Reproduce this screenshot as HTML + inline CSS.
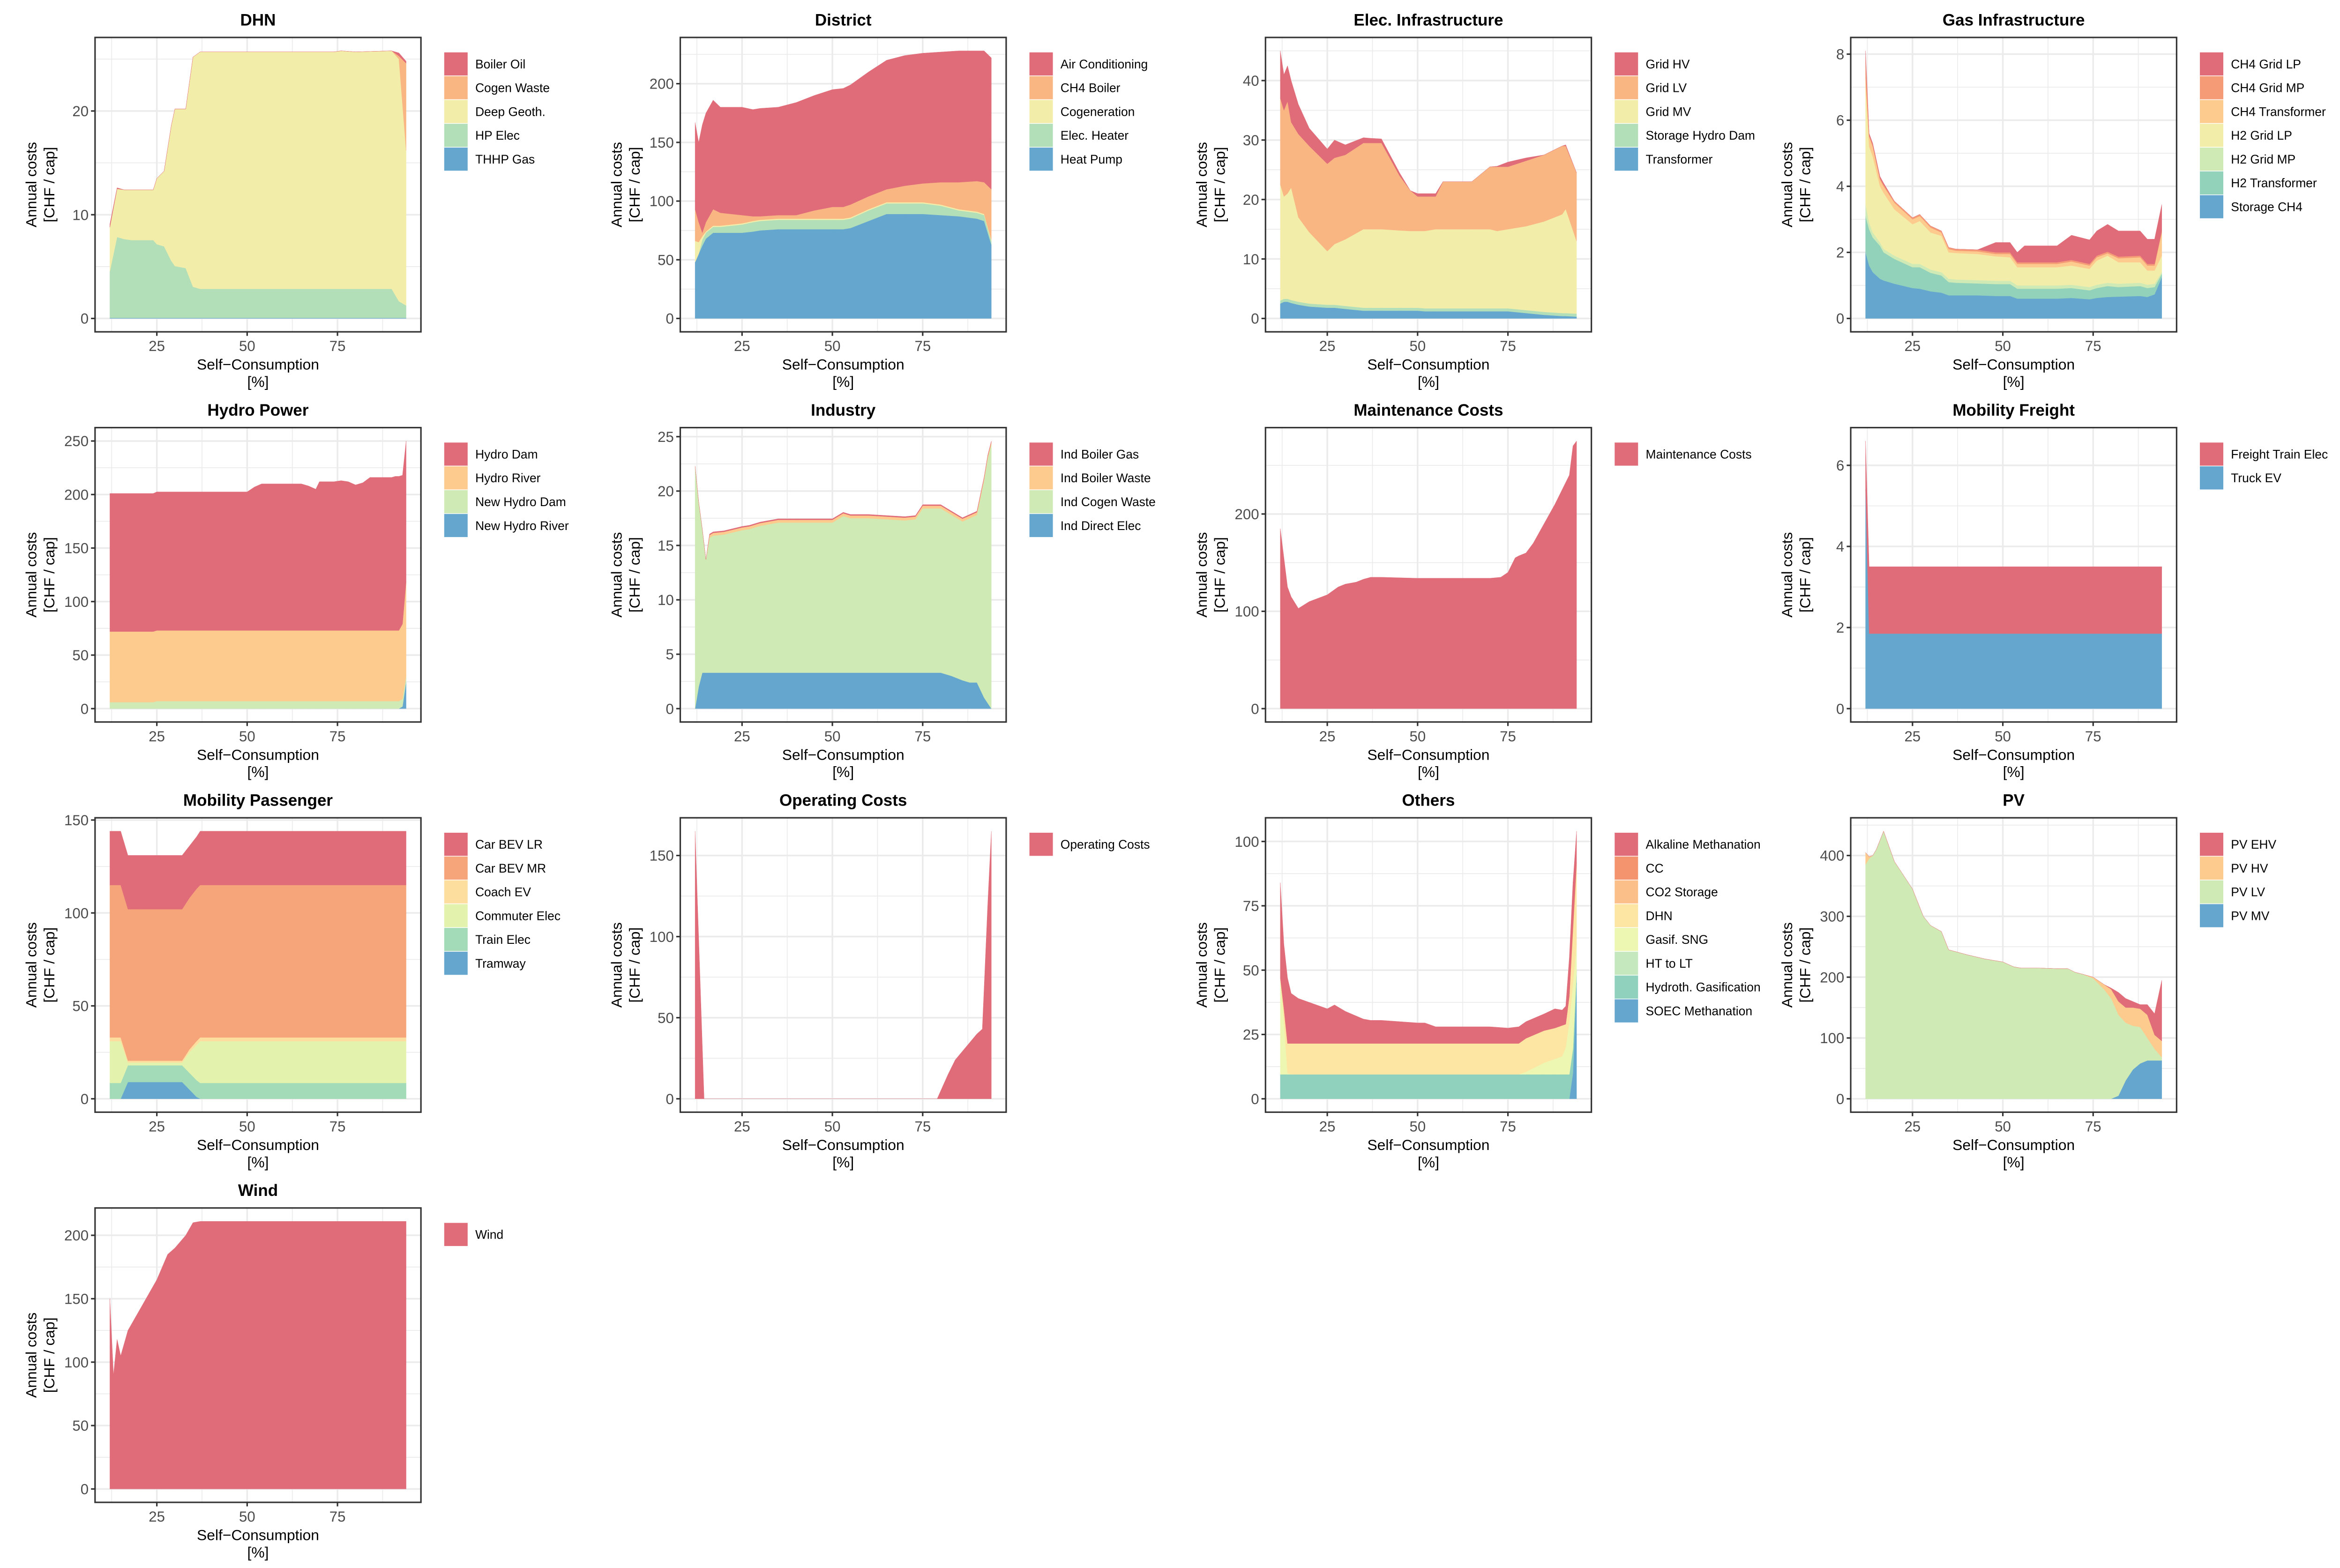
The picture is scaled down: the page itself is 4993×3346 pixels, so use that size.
<!DOCTYPE html>
<html><head><meta charset="utf-8">
<style>
html,body{margin:0;padding:0;background:#fff;}
svg{display:block;font-family:"Liberation Sans",Arial,sans-serif;}
</style></head>
<body>
<svg id="chart" xmlns="http://www.w3.org/2000/svg" width="4993" height="3346" viewBox="0 0 1568.2 1050.9" preserveAspectRatio="none">
<rect x="0" y="0" width="1568.2" height="1050.9" fill="#ffffff"/>
</svg>
<script>
// ---------- DATA ----------
const dhnX = [12,14,16,18,24,25,27,29,30,33,35,37,50,74,76,80,90,92,94];
const dhnBoilerOil = [0.3,0.1,0,0,0,0,0,0,0,0,0,0,0,0,0,0,0,0.3,0.2];
const dhnCogenWaste = [0,0,0,0,0,0,0,0,0,0,0,0,0,0,0,0,0,0.3,8.4];
const dhnDeepGeoth = [4.25,4.65,4.75,4.85,4.85,6.35,7.25,13.05,15.15,15.35,22.15,22.85,22.85,22.85,22.95,22.85,22.95,23.35,14.95];
const dhnHpElec = [4.5,7.8,7.6,7.5,7.5,7.1,6.9,5.5,5.0,4.8,3.0,2.8,2.8,2.8,2.8,2.8,2.8,1.6,1.2];
const dhnThhpGas = [0.05,0.05,0.05,0.05,0.05,0.05,0.05,0.05,0.05,0.05,0.05,0.05,0.05,0.05,0.05,0.05,0.05,0.05,0.05];
const dhnTicks = [0,10,20];

const districtX = [12,13,14,15,17,19,25,28,30,35,40,45,50,53,55,60,65,70,75,80,85,90,92,94];
const districtAirCond = [74,68,92,93,93,90,92,91,92,92,96,98,100,101,102,106,110,111,111,111,112,111,112,112];
const districtCh4Boiler = [27,17,3,8,14,11,7,4,3,3,3,7,10,10,11,11,11,14,16,19,23,26,27,43];
const districtCogeneration = [18,10,3,1,1,1,1,1,1,1,1,1,1,1,1,1,1,1,1,1,1,1,1,1];
const districtElecHeater = [0,0,5,5,5,5,7,8,8,8,8,8,8,8,8,9,9,9,9,8,5,5,5,3];
const districtHeatPump = [48,55,62,68,73,73,73,74,75,76,76,76,76,76,77,83,89,89,89,88,87,85,83,63];
const districtTicks = [0,50,100,150,200];

const elecX = [12,13,14,15,17,20,25,27,30,35,37,40,45,48,50,52,55,57,65,70,72,75,80,85,90,91,94];
const elecGridHV = [8,6,6,7,5,3,2.5,3,1.7,0.9,0.8,0.7,0.5,0,0.5,0.5,0.5,0,0,0,0.1,0.8,0.5,0,0,0.2,0];
const elecGridLV = [14.5,14.5,15.5,11,14,14.5,14.7,14.5,14.2,14.5,14.5,14.5,9.2,6.8,5.8,5.8,5.5,8,8,10.5,10.8,10.5,11,11.2,11.5,10.6,11.5];
const elecGridMV = [19.5,17.2,17.7,18.9,14.2,12.0,9.0,10.2,11.2,13.2,13.2,13.2,13.0,12.9,12.9,13.0,13.3,13.3,13.3,13.3,13.0,13.3,14.1,15.2,16.6,17.5,12.2];
const elecStorageHydro = [0.5,0.5,0.5,0.5,0.5,0.5,0.5,0.5,0.5,0.5,0.5,0.5,0.5,0.5,0.5,0.5,0.5,0.5,0.5,0.5,0.5,0.5,0.5,0.5,0.5,0.5,0.5];
const elecTransformer = [2.5,2.8,2.8,2.6,2.3,2.0,1.8,1.8,1.6,1.3,1.3,1.3,1.3,1.3,1.3,1.2,1.2,1.2,1.2,1.2,1.2,1.2,0.9,0.6,0.4,0.4,0.3];
const elecTicks = [0,10,20,30,40];

const gasX = [12,13,14,16,17,20,25,27,30,33,35,37,43,48,52,54,56,65,69,74,76,79,82,88,90,92,94];
const gasCh4GridLP = [0.2,0.05,0.05,0.05,0.05,0,0,0,0,0,0,0,0,0.3,0.3,0.3,0.5,0.5,0.75,0.73,0.75,0.83,0.78,0.75,0.75,0.75,0.8];
const gasCh4GridMP = [0.6,0.05,0.05,0.05,0.05,0.05,0.05,0.05,0.05,0.05,0.05,0.05,0.05,0.05,0.05,0.05,0.05,0.05,0.05,0.05,0.05,0.05,0.05,0.05,0.05,0.05,0.05];
const gasCh4Transformer = [0.3,0.3,0.3,0.2,0.2,0.2,0.15,0.15,0.15,0.1,0.1,0.07,0.08,0.07,0.1,0.1,0.1,0.1,0.12,0.1,0.1,0.07,0.12,0.15,0.15,0.15,0.7];
const gasH2GridLP = [3.55,2.3,2.3,1.7,1.7,1.4,1.2,1.3,1.12,1.1,0.8,0.8,0.79,0.74,0.71,0.55,0.55,0.55,0.58,0.55,0.73,0.82,0.65,0.62,0.43,0.4,0.5];
const gasH2GridMP = [0.35,0.2,0.15,0.1,0.1,0.1,0.1,0.1,0.1,0.1,0.1,0.1,0.1,0.1,0.1,0.1,0.1,0.1,0.1,0.1,0.1,0.1,0.1,0.1,0.1,0.1,0.05];
const gasH2Transformer = [1.1,1.1,1.05,1.0,0.85,0.75,0.63,0.65,0.56,0.52,0.4,0.38,0.36,0.36,0.36,0.3,0.3,0.3,0.3,0.27,0.3,0.33,0.29,0.3,0.27,0.22,0.1];
const gasStorageCh4 = [2.0,1.6,1.4,1.2,1.15,1.05,0.92,0.9,0.82,0.78,0.7,0.7,0.7,0.68,0.68,0.6,0.6,0.6,0.62,0.58,0.62,0.65,0.66,0.68,0.65,0.73,1.25];
const gasTicks = [0,2,4,6,8];

const hydroX = [12,24,25,50,52,54,55,65,67,69,70,74,76,78,80,82,84,90,91,92,93,94];
const hydroDam = [129,129,129.5,129.5,134,137,137,137,135,132,139,139,140,139,136,138,143,143,144,144,139,132];
const hydroRiver = [66,66,66,66,66,66,66,66,66,66,66,66,66,66,66,66,66,66,66,66,70,88];
const hydroNewDam = [6,6,7,7,7,7,7,7,7,7,7,7,7,7,7,7,7,7,7,7,7,5];
const hydroNewRiver = [0,0,0,0,0,0,0,0,0,0,0,0,0,0,0,0,0,0,0,0,2,25];
const hydroTicks = [0,50,100,150,200,250];

const industryX = [12,13,14,15,16,17,20,25,27,30,35,37,40,50,53,55,60,65,70,73,75,80,83,86,88,90,92,93,94];
const industryBoilerGas = [0,0,0,0,0.1,0.1,0.1,0.1,0.1,0.1,0.1,0.1,0.1,0.1,0.1,0.1,0.1,0.1,0.1,0.1,0.1,0.1,0.1,0.1,0.1,0.1,0.1,0.1,0.1];
const industryBoilerWaste = [0,0,0,0,0.25,0.25,0.25,0.25,0.25,0.25,0.25,0.25,0.25,0.25,0.25,0.25,0.25,0.25,0.25,0.25,0.25,0.25,0.25,0.25,0.25,0.25,0.2,0.2,0.2];
const industryCogenWaste = [22.3,17,13.2,10.4,12.4,12.6,12.7,13.1,13.2,13.5,13.8,13.8,13.8,13.8,14.4,14.2,14.2,14.1,14.0,14.1,15.1,15.1,14.8,14.6,15.1,15.4,20,22.5,24.3];
const industryDirectElec = [0,2,3.3,3.3,3.3,3.3,3.3,3.3,3.3,3.3,3.3,3.3,3.3,3.3,3.3,3.3,3.3,3.3,3.3,3.3,3.3,3.3,3.0,2.6,2.4,2.4,1.0,0.5,0];
const industryTicks = [0,5,10,15,20,25];

const maintX = [12,13,14,15,17,20,25,28,30,33,35,37,40,50,60,70,73,75,77,78,80,82,85,88,90,92,93,94];
const maintCosts = [185,155,125,115,103,110,117,125,128,130,133,135,135,134,134,134,135,140,155,157,160,170,190,210,225,240,270,275];
const maintTicks = [0,100,200];

const freightX = [12,13,94];
const freightTrain = [1.2,1.65,1.65];
const freightTruck = [5.4,1.85,1.85];
const freightTicks = [0,2,4,6];

const passX = [12,15,17,20,32,34,36,37,38,94];
const passCarLR = [29,29,29,29,29,28,28,29,29,29];
const passCarMR = [82,82,81.5,81.5,81.5,81.5,82,82,82,82];
const passCoach = [2,2,1,1,1,1.5,2,2,2,2];
const passCommuter = [22.5,22.5,1.5,1.5,1.5,11,19,22.5,22.5,22.5];
const passTrain = [8.5,8.5,9,9,9,9,9,8.5,8.5,8.5];
const passTramway = [0,0,9,9,9,5,1,0,0,0];
const passTicks = [0,50,100,150];

const opX = [12,14.5,79,82,84,87,90,91.5,93,94];
const opCosts = [165,0,0,15,24,32,40,43,120,165];
const opTicks = [0,50,100,150];

const othersX = [12,13,14,15,16,17,20,25,27,30,35,37,40,45,50,52,55,60,65,70,75,78,80,85,88,90,91,92,93,94];
const othersAlkaline = [37,25,25.5,19.5,18.5,17.5,16,13.5,15,12.5,9.5,9,9,8.5,8,8,6.5,6.5,6.5,6.5,6,6.5,6.5,6.5,7.5,6,7,15,17,12];
const othersCC = [0,0,0,0,0,0,0,0,0,0,0,0,0,0,0,0,0,0,0,0,0,0,0,0,0,0,0,0,1,1];
const othersCO2 = [0,0,0,0,0,0,0,0,0,0,0,0,0,0,0,0,0,0,0,0,0,0,0,0,0,0,0,0,1,1];
const othersDHN = [0,5,11.5,12,12,12,12,12,12,12,12,12,12,12,12,12,12,12,12,12,12,12,13,12.5,12,12,9,10,20,30];
const othersGasif = [37.5,20.5,0.5,0,0,0,0,0,0,0,0,0,0,0,0,0,0,0,0,0,0,0,1,4.5,6,7,10.5,20.5,25.5,10];
const othersHtLt = [0,0,0,0,0,0,0,0,0,0,0,0,0,0,0,0,0,0,0,0,0,0,0,0,0,0,0,0,0,0];
const othersHydroth = [9.5,9.5,9.5,9.5,9.5,9.5,9.5,9.5,9.5,9.5,9.5,9.5,9.5,9.5,9.5,9.5,9.5,9.5,9.5,9.5,9.5,9.5,9.5,9.5,9.5,9.5,9.5,9.5,9.5,5];
const othersSoec = [0,0,0,0,0,0,0,0,0,0,0,0,0,0,0,0,0,0,0,0,0,0,0,0,0,0,0,0,10,45];
const othersTicks = [0,25,50,75,100];

const pvX = [12,13,14,15,17,20,25,28,30,33,35,40,45,50,53,55,60,65,68,70,72,75,78,80,82,84,86,88,90,92,94];
const pvEHV = [0,0,0,0,0,0,0,0,0,0,0,0,0,0,0,0,0,0,0,0,0,0,0,2,15,15,10,7,17,35,100];
const pvHV = [20,3,0,0,0,0,0,0,0,0,0,0,0,0,0,0,0,0,0,0,0,2,8,15,22,25,30,30,38,23,27];
const pvLV = [385,395,400,410,440,390,345,300,285,275,245,237,230,225,217,215,215,214,214,208,205,198,180,165,133,95,72,60,37,19,5];
const pvMV = [0,0,0,0,0,0,0,0,0,0,0,0,0,0,0,0,0,0,0,0,0,0,0,0,5,30,48,58,63,63,63];
const pvTicks = [0,100,200,300,400];

const windX = [12,13,14,15,17,20,25,28,30,33,35,37,94];
const windCosts = [150,90,118,105,125,140,165,185,190,200,210,211,211];
const windTicks = [0,50,100,150,200];

const xTicks = [25,50,75];

// ---------- STYLE ----------
const RED='#E06C79', ORG7='#F59C77', ORG5='#F9B582', PEACH='#FDCB8E', YEL='#F3EDAA',
      LGR='#CFEAB5', GR5='#B3DFB8', TEAL='#93D2BA', BLUE='#65A6CF';

const panels = [
 {title:'DHN', col:0,row:0, x:dhnX, ticks:dhnTicks,
  names:['Boiler Oil','Cogen Waste','Deep Geoth.','HP Elec','THHP Gas'],
  series:[dhnBoilerOil,dhnCogenWaste,dhnDeepGeoth,dhnHpElec,dhnThhpGas],
  colors:[RED,ORG5,YEL,GR5,BLUE]},
 {title:'District', col:1,row:0, x:districtX, ticks:districtTicks,
  names:['Air Conditioning','CH4 Boiler','Cogeneration','Elec. Heater','Heat Pump'],
  series:[districtAirCond,districtCh4Boiler,districtCogeneration,districtElecHeater,districtHeatPump],
  colors:[RED,ORG5,YEL,GR5,BLUE]},
 {title:'Elec. Infrastructure', col:2,row:0, x:elecX, ticks:elecTicks,
  names:['Grid HV','Grid LV','Grid MV','Storage Hydro Dam','Transformer'],
  series:[elecGridHV,elecGridLV,elecGridMV,elecStorageHydro,elecTransformer],
  colors:[RED,ORG5,YEL,GR5,BLUE]},
 {title:'Gas Infrastructure', col:3,row:0, x:gasX, ticks:gasTicks,
  names:['CH4 Grid LP','CH4 Grid MP','CH4 Transformer','H2 Grid LP','H2 Grid MP','H2 Transformer','Storage CH4'],
  series:[gasCh4GridLP,gasCh4GridMP,gasCh4Transformer,gasH2GridLP,gasH2GridMP,gasH2Transformer,gasStorageCh4],
  colors:[RED,ORG7,PEACH,YEL,LGR,TEAL,BLUE]},
 {title:'Hydro Power', col:0,row:1, x:hydroX, ticks:hydroTicks,
  names:['Hydro Dam','Hydro River','New Hydro Dam','New Hydro River'],
  series:[hydroDam,hydroRiver,hydroNewDam,hydroNewRiver],
  colors:[RED,PEACH,LGR,BLUE]},
 {title:'Industry', col:1,row:1, x:industryX, ticks:industryTicks,
  names:['Ind Boiler Gas','Ind Boiler Waste','Ind Cogen Waste','Ind Direct Elec'],
  series:[industryBoilerGas,industryBoilerWaste,industryCogenWaste,industryDirectElec],
  colors:[RED,PEACH,LGR,BLUE]},
 {title:'Maintenance Costs', col:2,row:1, x:maintX, ticks:maintTicks,
  names:['Maintenance Costs'], series:[maintCosts], colors:[RED]},
 {title:'Mobility Freight', col:3,row:1, x:freightX, ticks:freightTicks,
  names:['Freight Train Elec','Truck EV'], series:[freightTrain,freightTruck], colors:[RED,BLUE]},
 {title:'Mobility Passenger', col:0,row:2, x:passX, ticks:passTicks,
  names:['Car BEV LR','Car BEV MR','Coach EV','Commuter Elec','Train Elec','Tramway'],
  series:[passCarLR,passCarMR,passCoach,passCommuter,passTrain,passTramway],
  colors:[RED,'#F6A57A','#FEDE9E','#E3F3AE','#A3DBB9',BLUE]},
 {title:'Operating Costs', col:1,row:2, x:opX, ticks:opTicks,
  names:['Operating Costs'], series:[opCosts], colors:[RED]},
 {title:'Others', col:2,row:2, x:othersX, ticks:othersTicks,
  names:['Alkaline Methanation','CC','CO2 Storage','DHN','Gasif. SNG','HT to LT','Hydroth. Gasification','SOEC Methanation'],
  series:[othersAlkaline,othersCC,othersCO2,othersDHN,othersGasif,othersHtLt,othersHydroth,othersSoec],
  colors:[RED,'#F4946F','#FBBF8A','#FDE5A3','#EDF7B1','#C5E8BF','#8FD1BD',BLUE]},
 {title:'PV', col:3,row:2, x:pvX, ticks:pvTicks,
  names:['PV EHV','PV HV','PV LV','PV MV'], series:[pvEHV,pvHV,pvLV,pvMV], colors:[RED,PEACH,LGR,BLUE]},
 {title:'Wind', col:0,row:3, x:windX, ticks:windTicks,
  names:['Wind'], series:[windCosts], colors:[RED]}
];

// ---------- DRAW ----------
const NS='http://www.w3.org/2000/svg';
const svg=document.getElementById('chart');
function mk(tag, parent){ const e=document.createElementNS(NS,tag); parent.appendChild(e); return e; }
function slug(s){ return s.toLowerCase().replace(/[^a-z0-9]+/g,'-').replace(/^-|-$/g,''); }

const PW=218.4, PH=197.3, XMIN=7.9, XMAX=98.1;

panels.forEach(p=>{
  const L=63.7+392.2*p.col, T=25.1+261.5*p.row;
  const id=slug(p.title);
  const n=p.series.length, m=p.x.length;
  let cum=new Array(m).fill(0);
  const bounds=[];
  for(let i=n-1;i>=0;i--){
    const lo=cum.slice();
    const hi=cum.map((c,j)=>c+p.series[i][j]);
    bounds[i]={lo,hi}; cum=hi;
  }
  const ymax=Math.max(...cum);
  const y0=-0.05*ymax, y1=1.05*ymax;
  const sx=x=>L+(x-XMIN)/(XMAX-XMIN)*PW;
  const sy=y=>T+PH-(y-y0)/(y1-y0)*PH;

  const g=mk('g',svg);
  
  

  const bg=mk('rect',g);
  bg.setAttribute('x',L); bg.setAttribute('y',T); bg.setAttribute('width',PW); bg.setAttribute('height',PH); bg.setAttribute('fill','#fff');
  
  

  // minor grid
  const step=p.ticks[1]-p.ticks[0];
  for(let t=p.ticks[0]-step/2; t<=y1; t+=step){
    if(t<y0) continue;
    const ln=mk('line',g);
    ln.setAttribute('x1',L); ln.setAttribute('x2',L+PW); ln.setAttribute('y1',sy(t)); ln.setAttribute('y2',sy(t));
    ln.setAttribute('stroke','#EBEBEB'); ln.setAttribute('stroke-width','0.55');
    
    
  }
  [12.5,37.5,62.5,87.5].forEach(t=>{
    const ln=mk('line',g);
    ln.setAttribute('x1',sx(t)); ln.setAttribute('x2',sx(t)); ln.setAttribute('y1',T); ln.setAttribute('y2',T+PH);
    ln.setAttribute('stroke','#EBEBEB'); ln.setAttribute('stroke-width','0.55');
    
    
  });
  p.ticks.forEach(t=>{
    const ln=mk('line',g);
    ln.setAttribute('x1',L); ln.setAttribute('x2',L+PW); ln.setAttribute('y1',sy(t)); ln.setAttribute('y2',sy(t));
    ln.setAttribute('stroke','#EBEBEB'); ln.setAttribute('stroke-width','1.1');
    
    
  });
  xTicks.forEach(t=>{
    const ln=mk('line',g);
    ln.setAttribute('x1',sx(t)); ln.setAttribute('x2',sx(t)); ln.setAttribute('y1',T); ln.setAttribute('y2',T+PH);
    ln.setAttribute('stroke','#EBEBEB'); ln.setAttribute('stroke-width','1.1');
    
    
  });

  // areas
  for(let i=n-1;i>=0;i--){
    const b=bounds[i];
    let d='M'+sx(p.x[0]).toFixed(2)+','+sy(b.hi[0]).toFixed(2);
    for(let j=1;j<m;j++) d+='L'+sx(p.x[j]).toFixed(2)+','+sy(b.hi[j]).toFixed(2);
    for(let j=m-1;j>=0;j--) d+='L'+sx(p.x[j]).toFixed(2)+','+sy(b.lo[j]).toFixed(2);
    d+='Z';
    const a=mk('path',g);
    a.setAttribute('d',d); a.setAttribute('fill',p.colors[i]);
    a.setAttribute('stroke',p.colors[i]); a.setAttribute('stroke-width','0.15');
    
    
  }

  const bd=mk('rect',g);
  bd.setAttribute('x',L); bd.setAttribute('y',T); bd.setAttribute('width',PW); bd.setAttribute('height',PH);
  bd.setAttribute('fill','none'); bd.setAttribute('stroke','#333333'); bd.setAttribute('stroke-width','1.0');
  
  

  // y ticks
  p.ticks.forEach(t=>{
    const tk=mk('line',g);
    tk.setAttribute('x1',L-2.7); tk.setAttribute('x2',L); tk.setAttribute('y1',sy(t)); tk.setAttribute('y2',sy(t));
    tk.setAttribute('stroke','#333333'); tk.setAttribute('stroke-width','1');
    
    
    const tx=mk('text',g);
    tx.setAttribute('x',L-4.3); tx.setAttribute('y',sy(t)+3.5);
    tx.setAttribute('text-anchor','end'); tx.setAttribute('font-size','9.8'); tx.setAttribute('fill','#4D4D4D');
    tx.textContent=String(t);
    
    
  });
  xTicks.forEach(t=>{
    const tk=mk('line',g);
    tk.setAttribute('x1',sx(t)); tk.setAttribute('x2',sx(t)); tk.setAttribute('y1',T+PH); tk.setAttribute('y2',T+PH+2.7);
    tk.setAttribute('stroke','#333333'); tk.setAttribute('stroke-width','1');
    
    
    const tx=mk('text',g);
    tx.setAttribute('x',sx(t)); tx.setAttribute('y',T+PH+12.9);
    tx.setAttribute('text-anchor','middle'); tx.setAttribute('font-size','9.8'); tx.setAttribute('fill','#4D4D4D');
    tx.textContent=String(t);
    
    
  });

  // titles
  const ti=mk('text',g);
  ti.setAttribute('x',L+PW/2); ti.setAttribute('y',T-8);
  ti.setAttribute('text-anchor','middle'); ti.setAttribute('font-size','11'); ti.setAttribute('font-weight','bold'); ti.setAttribute('fill','#000');
  ti.textContent=p.title;
  
  

  const xt=mk('text',g);
  xt.setAttribute('x',L+PW/2); xt.setAttribute('y',T+PH+25.3);
  xt.setAttribute('text-anchor','middle'); xt.setAttribute('font-size','10'); xt.setAttribute('fill','#000');
  xt.textContent='Self\u2212Consumption';
  
  
  const xu=mk('text',g);
  xu.setAttribute('x',L+PW/2); xu.setAttribute('y',T+PH+36.9);
  xu.setAttribute('text-anchor','middle'); xu.setAttribute('font-size','10'); xu.setAttribute('fill','#000');
  xu.textContent='[%]';
  
  

  const yt=mk('text',g);
  yt.setAttribute('transform','translate('+(L-39.3)+','+(T+PH/2)+') rotate(-90)');
  yt.setAttribute('text-anchor','middle'); yt.setAttribute('font-size','10'); yt.setAttribute('fill','#000');
  yt.textContent='Annual costs';
  
  
  const yu=mk('text',g);
  yu.setAttribute('transform','translate('+(L-27.2)+','+(T+PH/2)+') rotate(-90)');
  yu.setAttribute('text-anchor','middle'); yu.setAttribute('font-size','10'); yu.setAttribute('fill','#000');
  yu.textContent='[CHF / cap]';
  
  

  // legend
  const lg=mk('g',g);
  
  
  p.names.forEach((nm,k)=>{
    const yy=T+10+k*15.95;
    const sw=mk('rect',lg);
    sw.setAttribute('x',L+234); sw.setAttribute('y',yy); sw.setAttribute('width',15.7); sw.setAttribute('height',15.5);
    sw.setAttribute('fill',p.colors[k]);
    
    
    const lt=mk('text',lg);
    lt.setAttribute('x',L+254.8); lt.setAttribute('y',yy+10.7);
    lt.setAttribute('font-size','8.3'); lt.setAttribute('fill','#000');
    lt.textContent=nm;
    
    
  });
});
</script>
</body></html>
